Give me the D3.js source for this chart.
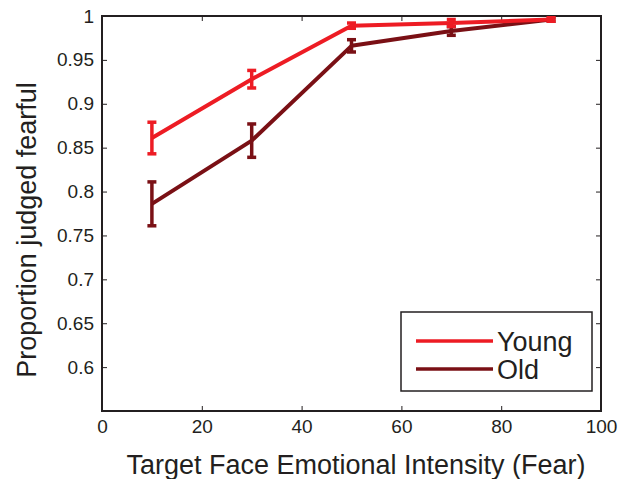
<!DOCTYPE html>
<html>
<head>
<meta charset="utf-8">
<script src="https://cdn.jsdelivr.net/npm/d3@7"></script>
<style>
  body { margin: 0; background: #fff; }
  svg { font-family: "Liberation Sans", Arial, sans-serif; }
</style>
</head>
<body>
<svg id="chart" width="622" height="479"></svg>
<script>
// intensity levels (percent fear)
var intensity = [10, 30, 50, 70, 90];
var young_mean = [0.861, 0.928, 0.989, 0.992, 0.996];
var young_err = [0.018, 0.010, 0.003, 0.004, 0.002];
var old_mean = [0.786, 0.858, 0.966, 0.983, 0.996];
var old_err = [0.025, 0.019, 0.007, 0.005, 0.002];
var x_ticks = [0, 20, 40, 60, 80, 100];
var y_ticks = [0.6, 0.65, 0.7, 0.75, 0.8, 0.85, 0.9, 0.95, 1];

var series = [
    { name: 'Young', mean: young_mean, err: young_err, color: '#ED1C24' },
    { name: 'Old', mean: old_mean, err: old_err, color: '#7A1015' }
];

var margin = { left: 102, top: 16, right: 21, bottom: 68 };
var width = 622 - margin.left - margin.right,
    height = 479 - margin.top - margin.bottom;
var axis_color = '#231F20';

var svg = d3.select('#chart');
var g = svg.append('g')
    .attr('transform', 'translate(' + margin.left + ',' + margin.top + ')');

var x = d3.scaleLinear().domain([0, 100]).range([0, width]);
var y = d3.scaleLinear().domain([0.55, 1]).range([height, 0]);

// ticks point inward, mirrored on top and right like matlab
function style_axis(sel, labels) {
    sel.select('.domain').remove();
    sel.selectAll('line').attr('stroke', axis_color).attr('stroke-width', 1);
    sel.selectAll('text')
        .attr('fill', axis_color)
        .style('font-size', labels ? '19px' : '0px');
}

g.append('g').attr('transform', 'translate(0,' + height + ')')
    .call(d3.axisBottom(x).tickValues(x_ticks).tickSize(-5).tickPadding(9)
          .tickFormat(d3.format('d')))
    .call(style_axis, true);
g.append('g')
    .call(d3.axisTop(x).tickValues(x_ticks).tickSize(-5).tickFormat(''))
    .call(style_axis, false);
g.append('g')
    .call(d3.axisLeft(y).tickValues(y_ticks).tickSize(-5).tickPadding(8)
          .tickFormat(function (d) { return d3.format('')(+d.toFixed(2)); }))
    .call(style_axis, true);
g.append('g').attr('transform', 'translate(' + width + ',0)')
    .call(d3.axisRight(y).tickValues(y_ticks).tickSize(-5).tickFormat(''))
    .call(style_axis, false);

g.append('rect')
    .attr('width', width).attr('height', height)
    .attr('fill', 'none').attr('stroke', axis_color).attr('stroke-width', 2);

var line = d3.line()
    .x(function (d) { return x(d.x); })
    .y(function (d) { return y(d.m); });

// draw old first so young sits on top
series.slice().reverse().forEach(function (s) {
    var pts = intensity.map(function (v, i) {
        return { x: v, m: s.mean[i], e: s.err[i] };
    });
    var grp = g.append('g');
    grp.append('path')
        .datum(pts)
        .attr('d', line)
        .attr('fill', 'none')
        .attr('stroke', s.color)
        .attr('stroke-width', 4)
        .attr('stroke-linejoin', 'round');
    var bars = grp.selectAll('g.err').data(pts).enter().append('g').attr('class', 'err');
    bars.append('line')
        .attr('x1', function (d) { return x(d.x); })
        .attr('x2', function (d) { return x(d.x); })
        .attr('y1', function (d) { return y(d.m - d.e); })
        .attr('y2', function (d) { return y(d.m + d.e); })
        .attr('stroke', s.color).attr('stroke-width', 3.5);
    [-1, 1].forEach(function (sign) {
        bars.append('line')
            .attr('x1', function (d) { return x(d.x) - 4.5; })
            .attr('x2', function (d) { return x(d.x) + 4.5; })
            .attr('y1', function (d) { return y(d.m + sign * d.e); })
            .attr('y2', function (d) { return y(d.m + sign * d.e); })
            .attr('stroke', s.color).attr('stroke-width', 3.5);
    });
});

// legend
var lg = svg.append('g').attr('transform', 'translate(401,312)');
lg.append('rect')
    .attr('width', 191).attr('height', 79)
    .attr('fill', '#fff').attr('stroke', axis_color).attr('stroke-width', 1.5);
series.forEach(function (s, i) {
    var ly = 29 + i * 28;
    lg.append('line')
        .attr('x1', 15).attr('x2', 92).attr('y1', ly).attr('y2', ly)
        .attr('stroke', s.color).attr('stroke-width', 3.5);
    lg.append('text')
        .attr('x', 96).attr('y', ly + 10)
        .attr('fill', axis_color)
        .style('font-size', '27px')
        .text(s.name);
});

// axis titles
svg.append('text')
    .attr('x', 356).attr('y', 474)
    .attr('text-anchor', 'middle')
    .attr('fill', axis_color)
    .style('font-size', '27px')
    .text('Target Face Emotional Intensity (Fear)');
svg.append('text')
    .attr('transform', 'translate(36,' + (margin.top + 214) + ') rotate(-90)')
    .attr('text-anchor', 'middle')
    .attr('fill', axis_color)
    .style('font-size', '27px')
    .text('Proportion judged fearful');
</script>
</body>
</html>
